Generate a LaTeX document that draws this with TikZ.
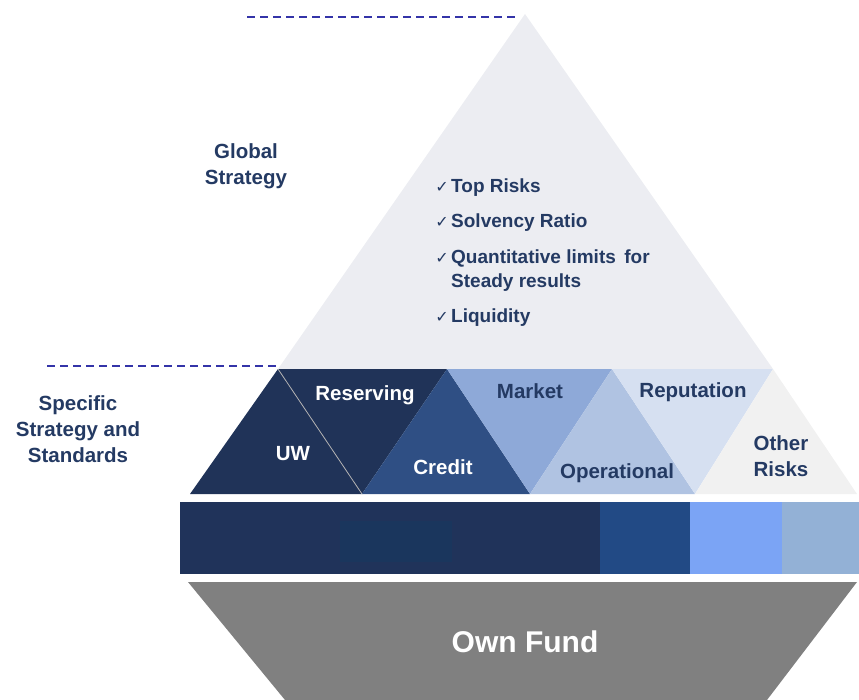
\documentclass[tikz,border=0pt]{standalone}
\usepackage{fontspec}
\setmainfont{Liberation Sans}
\newfontfamily\symfont{DejaVu Sans}
\definecolor{txtnavy}{HTML}{243A63}
\definecolor{topgray}{HTML}{ECEDF2}
\definecolor{uwnavy}{HTML}{203358}
\definecolor{creditblue}{HTML}{2F4F84}
\definecolor{marketblue}{HTML}{8EA9D8}
\definecolor{operblue}{HTML}{B0C3E2}
\definecolor{reputblue}{HTML}{D6E0F1}
\definecolor{othergray}{HTML}{F1F1F1}
\definecolor{barnavy}{HTML}{20335A}
\definecolor{barinner}{HTML}{1A365D}
\definecolor{barmid}{HTML}{224A85}
\definecolor{barlight}{HTML}{7BA4F5}
\definecolor{barpale}{HTML}{93B1D6}
\definecolor{fundgray}{HTML}{808080}
\definecolor{dashblue}{HTML}{3434A8}
\tikzset{
  lbl/.style={font=\bfseries\fontsize{20.5}{26}\selectfont, text=txtnavy, align=center, inner sep=0pt},
  wlbl/.style={lbl, text=white},
  item/.style={font=\bfseries\fontsize{19}{24}\selectfont, text=txtnavy, align=left, inner sep=0pt, anchor=base west},
  tick/.style={font=\symfont\fontsize{16}{16}\selectfont, text=txtnavy, inner sep=0pt, anchor=base east},
  guide/.style={dashblue, dashed, dash pattern=on 7.5pt off 5.5pt, line width=1.4pt}
}
\begin{document}
\begin{tikzpicture}[x=1pt,y=-1pt]
\useasboundingbox (0,0) rectangle (859,700);
% top triangle
\fill[topgray] (525,14) -- (278,369) -- (773,369) -- cycle;
% band
\fill[uwnavy] (278,369) -- (190,494) -- (362,494) -- cycle;
\fill[uwnavy] (278,369) -- (447,369) -- (362,494) -- cycle;
\draw[gray!60, line width=0.8pt] (278,369) -- (362,494);
\fill[creditblue] (447,369) -- (362,494) -- (530,494) -- cycle;
\fill[marketblue] (447,369) -- (612,369) -- (530,494) -- cycle;
\fill[operblue] (612,369) -- (530,494) -- (695,494) -- cycle;
\fill[reputblue] (612,369) -- (773,369) -- (695,494) -- cycle;
\fill[othergray] (773,369) -- (695,494) -- (857,494) -- cycle;
% bar
\fill[barnavy] (180,502) rectangle (600,574);
\fill[barinner] (340,521) rectangle (452,562);
\fill[barmid] (600,502) rectangle (690,574);
\fill[barlight] (690,502) rectangle (782,574);
\fill[barpale] (782,502) rectangle (859,574);
% own fund
\fill[fundgray] (188,582) -- (857,582) -- (767,700) -- (285,700) -- cycle;
% dashed guides
\coordinate (g1a) at (247,17);
\coordinate (g1b) at (518,17);
\coordinate (g2a) at (47,366);
\coordinate (g2b) at (278,366);
\draw[guide] (g1a) -- (g1b);
\draw[guide] (g2a) -- (g2b);
% labels
\node[lbl] (global) at (246,166) {Global\\Strategy};
\node[lbl] (specific) at (78,429) {Specific\\Strategy and\\Standards};
\node[wlbl] (uw) at (293,454) {UW};
\node[wlbl] (res) at (365,395) {Reserving};
\node[wlbl] (cred) at (443,467) {Credit};
\node[lbl] (mkt) at (530,391) {Market};
\node[lbl] (oper) at (617,473) {Operational};
\node[lbl] (rep) at (693,392) {Reputation};
\node[lbl] (oth) at (781,456) {Other\\Risks};
\node[font=\bfseries\fontsize{30}{36}\selectfont, text=white, inner sep=0pt] (fund) at (525,642) {Own Fund};
% checklist
\node[item] (i1) at (451,193) {Top Risks};
\node[item] (i2) at (451,228) {Solvency Ratio};
\node[item] (i3) at (451,288) {Quantitative limits\, for\\Steady results};
\node[item] (i4) at (451,323) {Liquidity};
\node[tick] (t1) at (449,193) {✓};
\node[tick] (t2) at (449,228) {✓};
\node[tick] (t3) at (449,264) {✓};
\node[tick] (t4) at (449,323) {✓};
\end{tikzpicture}
\end{document}
